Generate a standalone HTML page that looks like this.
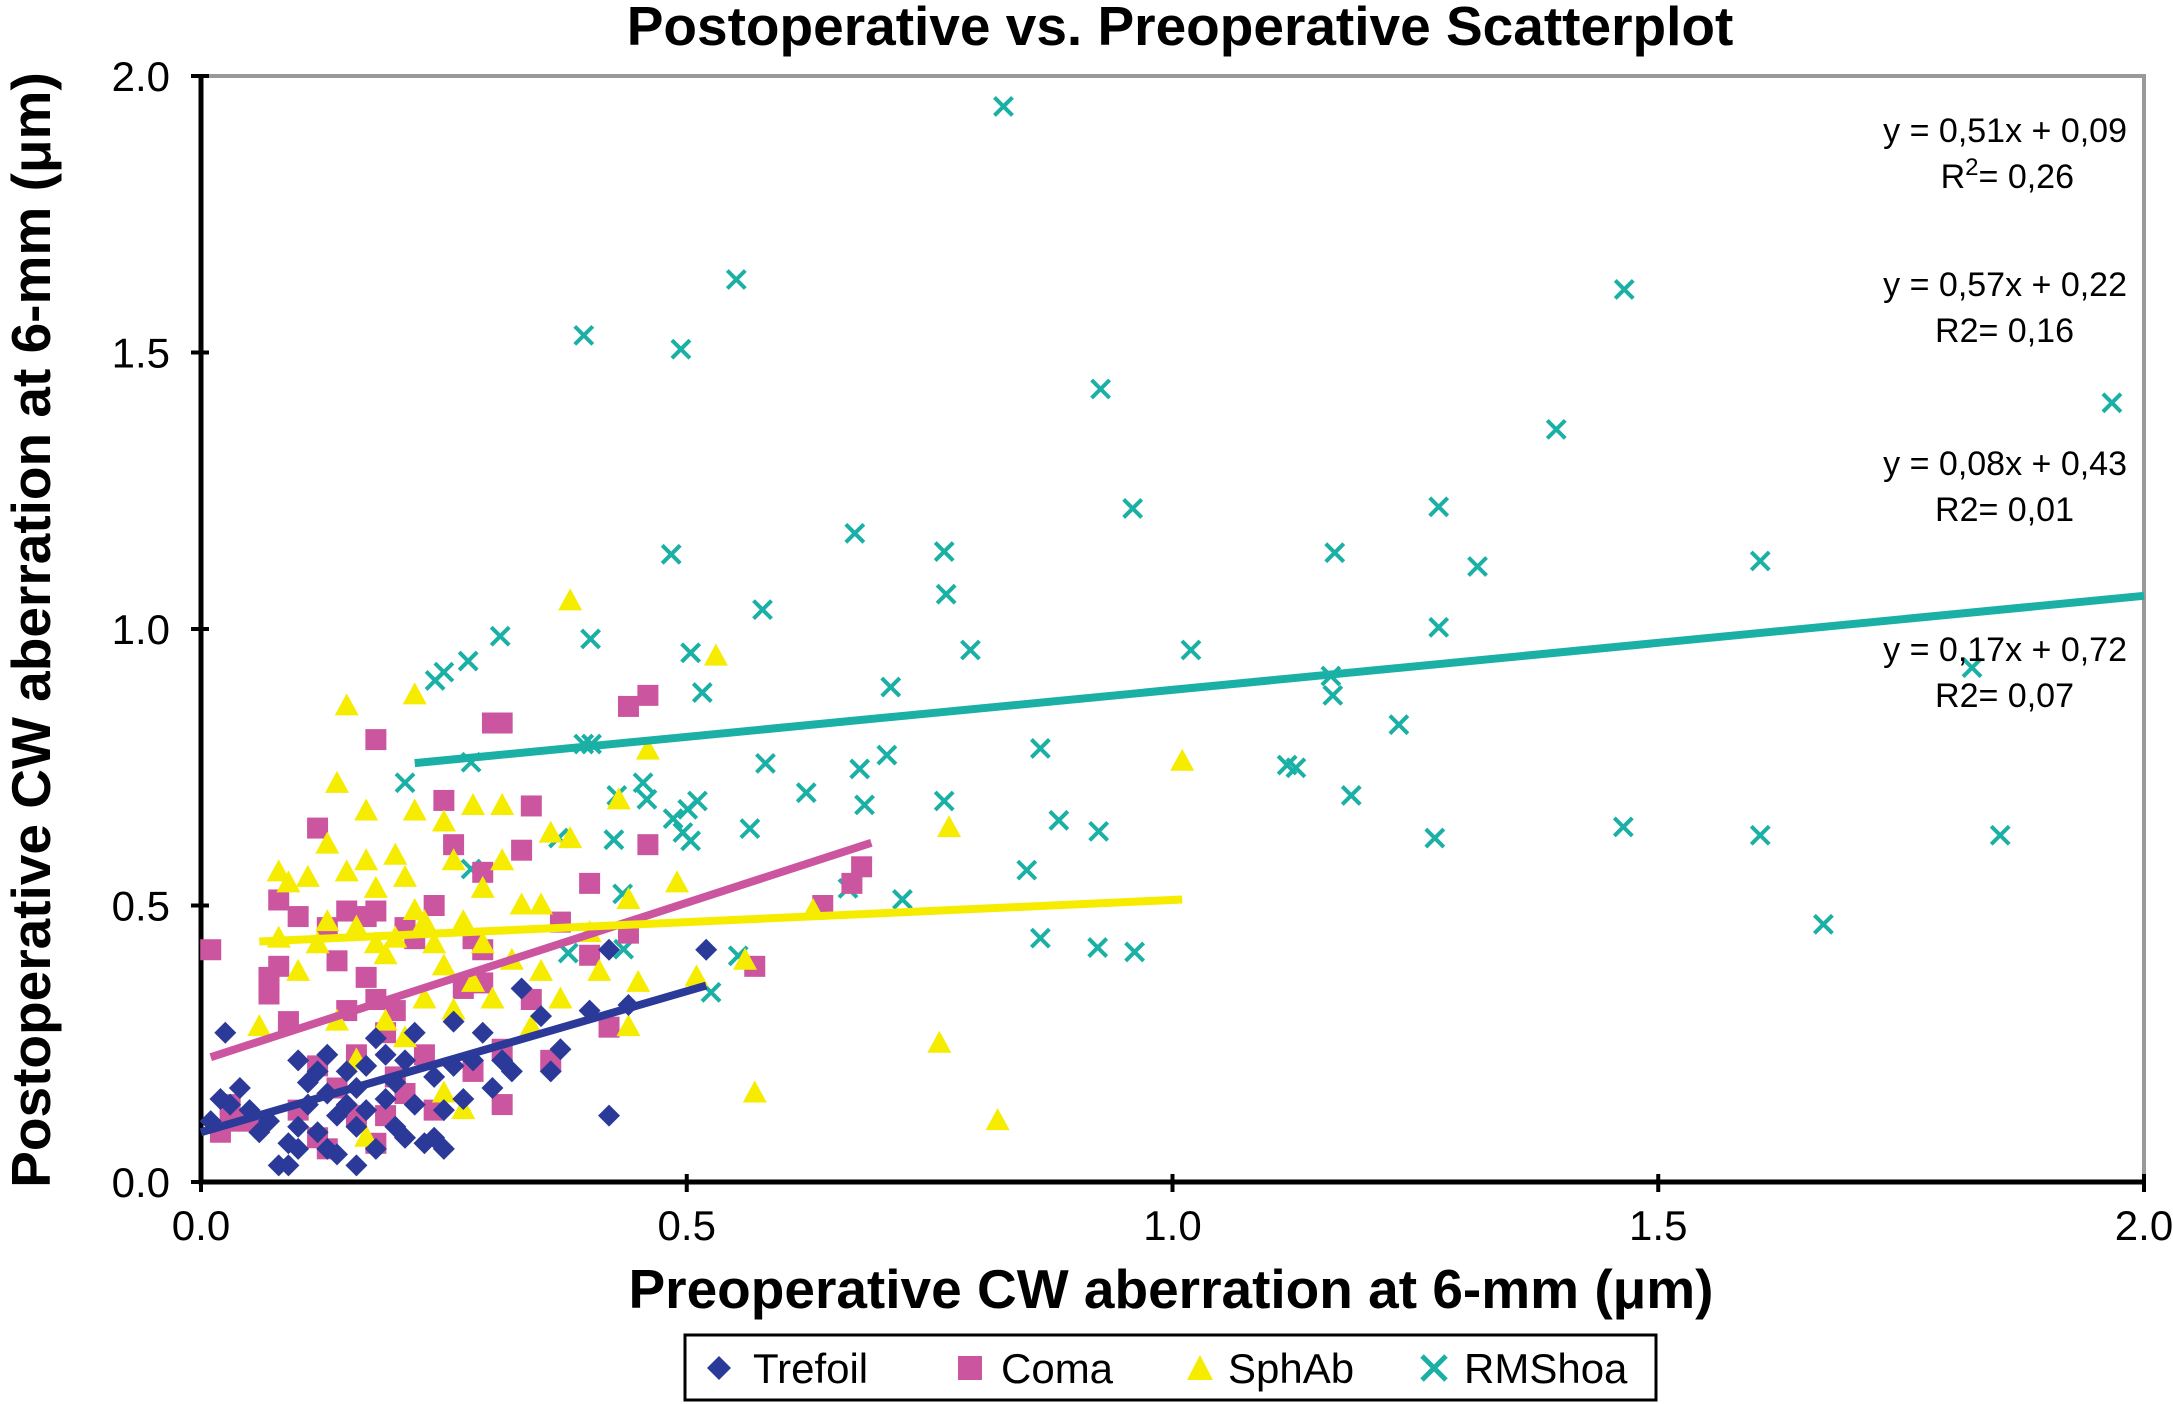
<!DOCTYPE html>
<html><head><meta charset="utf-8"><style>
html,body{margin:0;padding:0;background:#fff;}
svg{display:block;font-family:"Liberation Sans",Arial,sans-serif;}
</style></head><body>
<svg id="chart" width="2173" height="1404" viewBox="0 0 2173 1404" xmlns="http://www.w3.org/2000/svg">
<rect width="2173" height="1404" fill="#fff"/>
<text x="1180" y="45" font-size="55" font-weight="bold" text-anchor="middle">Postoperative vs. Preoperative Scatterplot</text>
<g id="plot"></g>
<text x="1171" y="1308" font-size="55" font-weight="bold" text-anchor="middle">Preoperative CW aberration at 6-mm (μm)</text>
<text transform="translate(50,630) rotate(-90)" font-size="55" font-weight="bold" text-anchor="middle">Postoperative CW aberration at 6-mm (μm)</text>
<g>
<rect x="685" y="1335" width="971" height="65" fill="#fff" stroke="#000" stroke-width="3"/>
<g><path d="M719,1356 L731,1368 L719,1380 L707,1368Z" fill="#2b3a98"/><text x="753" y="1383" font-size="42">Trefoil</text></g>
<g><rect x="958" y="1356" width="24" height="24" fill="#cc55a0"/><text x="1001" y="1383" font-size="42">Coma</text></g>
<g><path d="M1200,1355 L1213,1380 L1187,1380Z" fill="#f5ec00"/><text x="1228" y="1383" font-size="42">SphAb</text></g>
<g><path d="M1422,1356 L1446,1380 M1446,1356 L1422,1380" stroke="#1bb0a6" stroke-width="5"/><text x="1464" y="1383" font-size="42">RMShoa</text></g>
</g>
</svg>
<script>
const xTicks=[0,0.5,1.0,1.5,2.0];
const yTicks=[0,0.5,1.0,1.5,2.0];
const tickLabels=["0.0","0.5","1.0","1.5","2.0"];
const trefoilX=[0.01,0.02,0.025,0.03,0.04,0.05,0.06,0.07,0.08,0.09,0.09,0.10,0.10,0.11,0.11,0.12,0.12,0.13,0.13,0.14,0.14,0.15,0.15,0.16,0.16,0.16,0.17,0.17,0.18,0.18,0.19,0.19,0.20,0.20,0.21,0.21,0.22,0.22,0.23,0.24,0.24,0.25,0.25,0.26,0.26,0.27,0.28,0.29,0.30,0.31,0.32,0.33,0.35,0.36,0.37,0.40,0.42,0.42,0.44,0.52,0.10,0.13];
const trefoilY=[0.11,0.15,0.27,0.14,0.17,0.13,0.09,0.11,0.03,0.07,0.03,0.10,0.06,0.14,0.18,0.20,0.09,0.23,0.16,0.12,0.05,0.14,0.20,0.17,0.03,0.10,0.21,0.13,0.06,0.26,0.15,0.23,0.18,0.10,0.22,0.08,0.27,0.14,0.07,0.19,0.08,0.06,0.13,0.21,0.29,0.15,0.22,0.27,0.17,0.22,0.20,0.35,0.30,0.20,0.24,0.31,0.12,0.42,0.32,0.42,0.22,0.06];
const comaX=[0.01,0.02,0.03,0.05,0.07,0.07,0.08,0.08,0.09,0.10,0.10,0.12,0.12,0.12,0.13,0.13,0.14,0.14,0.15,0.15,0.16,0.16,0.17,0.17,0.18,0.18,0.18,0.18,0.19,0.19,0.20,0.20,0.21,0.21,0.22,0.23,0.24,0.24,0.25,0.26,0.27,0.28,0.28,0.29,0.29,0.29,0.30,0.31,0.31,0.31,0.33,0.34,0.34,0.36,0.37,0.40,0.40,0.42,0.44,0.44,0.46,0.46,0.57,0.64,0.67,0.68,0.03];
const comaY=[0.42,0.09,0.14,0.11,0.37,0.34,0.39,0.51,0.29,0.48,0.13,0.21,0.08,0.64,0.46,0.06,0.40,0.17,0.49,0.31,0.23,0.12,0.48,0.37,0.80,0.49,0.33,0.07,0.27,0.12,0.31,0.19,0.46,0.16,0.44,0.23,0.13,0.50,0.69,0.61,0.35,0.20,0.44,0.42,0.36,0.56,0.83,0.83,0.24,0.14,0.60,0.33,0.68,0.22,0.47,0.54,0.41,0.28,0.45,0.86,0.88,0.61,0.39,0.50,0.54,0.57,0.11];
const sphX=[0.06,0.08,0.08,0.09,0.10,0.11,0.12,0.13,0.13,0.14,0.14,0.15,0.15,0.16,0.16,0.17,0.17,0.17,0.18,0.18,0.19,0.19,0.20,0.20,0.21,0.21,0.22,0.22,0.22,0.23,0.23,0.24,0.25,0.25,0.25,0.26,0.26,0.27,0.27,0.28,0.28,0.29,0.29,0.30,0.31,0.31,0.32,0.33,0.34,0.35,0.35,0.36,0.37,0.38,0.38,0.40,0.41,0.43,0.44,0.44,0.45,0.46,0.49,0.51,0.53,0.56,0.57,0.63,0.76,0.77,0.82,1.01];
const sphY=[0.28,0.44,0.56,0.54,0.38,0.55,0.43,0.47,0.61,0.72,0.29,0.86,0.56,0.46,0.22,0.67,0.58,0.08,0.43,0.53,0.29,0.41,0.59,0.44,0.55,0.26,0.67,0.49,0.88,0.47,0.33,0.43,0.65,0.39,0.16,0.58,0.31,0.47,0.13,0.68,0.36,0.53,0.43,0.33,0.58,0.68,0.40,0.50,0.28,0.50,0.38,0.63,0.33,1.05,0.62,0.45,0.38,0.69,0.51,0.28,0.36,0.78,0.54,0.37,0.95,0.40,0.16,0.49,0.25,0.64,0.11,0.76];
const rmsX=[0.826,0.551,0.394,0.494,1.465,1.967,0.926,1.395,1.605,0.959,0.673,0.765,0.484,0.767,1.274,1.314,1.167,0.578,0.504,0.308,0.401,0.792,1.274,1.019,0.710,0.516,0.250,0.275,0.241,1.823,1.163,1.165,1.233,1.118,1.127,1.184,1.270,1.852,1.464,1.605,1.670,0.864,0.581,0.706,0.623,0.678,0.765,0.683,0.455,0.511,0.501,0.486,0.496,0.504,0.565,0.428,0.459,0.368,0.425,0.402,0.394,0.278,0.210,0.278,0.883,0.850,0.924,0.722,0.666,0.553,0.864,0.923,0.961,0.378,0.435,0.434,0.525];
const rmsY=[1.945,1.632,1.531,1.506,1.614,1.409,1.434,1.361,1.123,1.218,1.173,1.140,1.135,1.063,1.221,1.113,1.138,1.035,0.957,0.987,0.982,0.962,1.003,0.962,0.895,0.885,0.922,0.942,0.907,0.930,0.915,0.880,0.827,0.754,0.749,0.699,0.622,0.627,0.642,0.627,0.466,0.784,0.757,0.772,0.704,0.747,0.689,0.682,0.722,0.689,0.674,0.657,0.632,0.617,0.639,0.699,0.692,0.622,0.619,0.792,0.792,0.759,0.722,0.566,0.654,0.564,0.634,0.511,0.531,0.409,0.441,0.424,0.416,0.414,0.421,0.521,0.343];
const trendNames=["trefoil","coma","sphab","rmshoa"];
const trendSlope=[0.51,0.57,0.08,0.17];
const trendIntercept=[0.09,0.22,0.43,0.72];
const trendXStart=[0.0,0.01,0.06,0.22];
const trendXEnd=[0.52,0.69,1.01,2.0];
const eqLines=["y = 0,51x + 0,09","y = 0,57x + 0,22","y = 0,08x + 0,43","y = 0,17x + 0,72"];
const r2Values=["0,26","0,16","0,01","0,07"];

const NS="http://www.w3.org/2000/svg";
const L=201,R=2144,T=76,B=1182;
function X(v){return L+v/2*(R-L);}
function Y(v){return B-v/2*(B-T);}
const g=document.getElementById('plot');
function mk(tag,attrs,parent){const e=document.createElementNS(NS,tag);for(const k in attrs)e.setAttribute(k,attrs[k]);(parent||g).appendChild(e);return e;}

let e=mk('path',{d:`M${L},${T} L${R},${T} L${R},${B}`,fill:'none',stroke:'#999',"stroke-width":4});


xTicks.forEach((t,i)=>{
  let tk=mk('line',{x1:X(t),x2:X(t),y1:B-8,y2:B+10,stroke:'#000',"stroke-width":4});
  
  
  let tl=mk('text',{x:X(t),y:B+58,"font-size":42,"text-anchor":"middle"});tl.textContent=tickLabels[i];
  
  
});
yTicks.forEach((t,i)=>{
  let tk=mk('line',{x1:L-10,x2:L+8,y1:Y(t),y2:Y(t),stroke:'#000',"stroke-width":4});
  
  
  let tl=mk('text',{x:170,y:Y(t)+15,"font-size":42,"text-anchor":"end"});tl.textContent=tickLabels[i];
  
  
});
const ax=mk('path',{d:`M${L},${T-2} L${L},${B} L${R},${B}`,fill:'none',stroke:'#000',"stroke-width":5});



function series(xs,ys,name,draw){
  const sg=mk('g',{});
  
  
  xs.forEach((x,i)=>{const m=draw(X(x),Y(ys[i]),sg);
    
    });
}
series(rmsX,rmsY,'rmshoa',(x,y,p)=>mk('path',{d:`M${x-9},${y-9}L${x+9},${y+9}M${x+9},${y-9}L${x-9},${y+9}`,stroke:'#1bb0a6',"stroke-width":4},p));
series(comaX,comaY,'coma',(x,y,p)=>mk('rect',{x:x-10.5,y:y-10.5,width:21,height:21,fill:'#cc55a0'},p));
series(sphX,sphY,'sphab',(x,y,p)=>mk('path',{d:`M${x},${y-13}L${x+12},${y+9}L${x-12},${y+9}Z`,fill:'#f5ec00'},p));
series(trefoilX,trefoilY,'trefoil',(x,y,p)=>mk('path',{d:`M${x},${y-11}L${x+11},${y}L${x},${y+11}L${x-11},${y}Z`,fill:'#2b3a98'},p));

const tcol=['#2b3a98','#cc55a0','#f5ec00','#1bb0a6'];
trendNames.forEach((n,i)=>{
  const x1=trendXStart[i],x2=trendXEnd[i];
  const ln=mk('line',{x1:X(x1),y1:Y(trendSlope[i]*x1+trendIntercept[i]),x2:X(x2),y2:Y(trendSlope[i]*x2+trendIntercept[i]),stroke:tcol[i],"stroke-width":8});
  
  
});
const eqY=[142,296,475,661];
eqLines.forEach((s,i)=>{
  const t=mk('text',{x:2127,y:eqY[i],"font-size":34,"text-anchor":"end"});t.textContent=s;
  
  
  const r=mk('text',{x:2074,y:eqY[i]+46,"font-size":34,"text-anchor":"end"});
  
  
  if(i===0){r.innerHTML='R<tspan dy="-13" font-size="24">2</tspan><tspan dy="13">= '+r2Values[i]+'</tspan>';}
  else r.textContent='R2= '+r2Values[i];
});
</script>
</body></html>
